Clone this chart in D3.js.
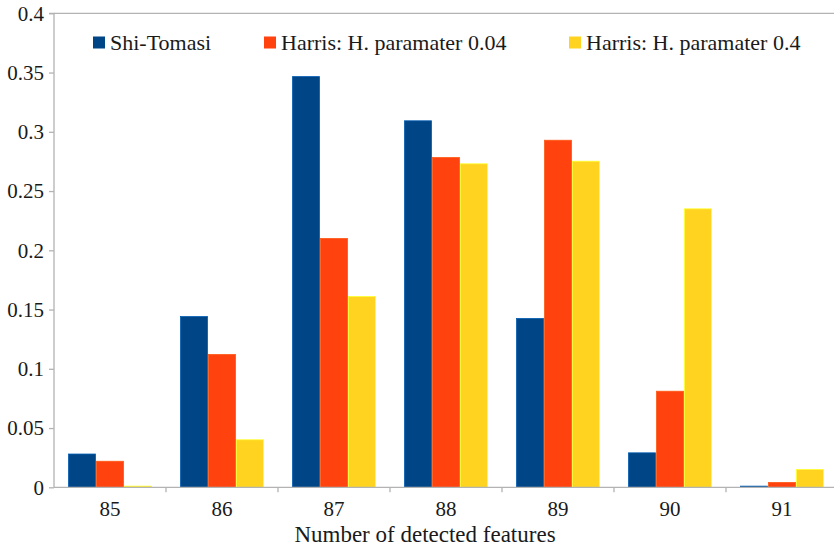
<!DOCTYPE html>
<html><head><meta charset="utf-8">
<script src="https://cdn.jsdelivr.net/npm/d3@7"></script>
</head><body style="margin:0">
<svg id="c" width="834" height="549" font-family="Liberation Serif"></svg>
<script>
const categories = ["85","86","87","88","89","90","91"];
const seriesNames = ["Shi-Tomasi","Harris: H. paramater 0.04","Harris: H. paramater 0.4"];
const shiTomasi = [0.0285,0.1445,0.347,0.3097,0.1429,0.0295,0.0014];
const harris004 = [0.0224,0.1125,0.2104,0.2787,0.2933,0.0815,0.0045];
const harris04  = [0.0014,0.0405,0.1614,0.2734,0.2756,0.2354,0.0154];
const colors = ["#004586","#ff420e","#ffd320"];
const yTicks = [0,0.05,0.1,0.15,0.2,0.25,0.3,0.35,0.4];
const yTickLabels = ["0","0.05","0.1","0.15","0.2","0.25","0.3","0.35","0.4"];

const series = [shiTomasi, harris004, harris04];
const FF = d => '"Liberation Serif"';
const svg = d3.select("#c");
const x = d3.scaleBand().domain(categories).range([54,838]).paddingInner(0).paddingOuter(0);
const y = d3.scaleLinear().domain([0,0.4]).range([487.3,13.3]);
const sub = d3.scaleBand().domain(d3.range(series.length)).range([0,x.bandwidth()]).paddingOuter(0.5).paddingInner(0);

svg.append("line").attr("x1",54).attr("x2",834).attr("y1",y(0.4)).attr("y2",y(0.4)).attr("stroke","#b3b3b3").attr("stroke-width",1.3);

series.forEach((vals,si)=>{
  svg.append("g").selectAll("rect").data(vals).join("rect")
    .attr("x",(d,i)=>x(categories[i])+sub(si)+0.5)
    .attr("width",sub.bandwidth()-1)
    .attr("y",d=>y(d)+0.5)
    .attr("height",d=>Math.max(0,y(0)-y(d)-0.5))
    .attr("fill",colors[si])
    .attr("stroke",d3.color(colors[si]).brighter(0.8))
    .attr("stroke-width",0.8);
});

// y axis
const ya = d3.axisLeft(y).tickValues(yTicks).tickFormat((d,i)=>yTickLabels[i]).tickSize(5).tickPadding(5);
const yg = svg.append("g").attr("transform","translate(54,0)").call(ya);
yg.attr("font-family","Liberation Serif").attr("font-size",21);
yg.select(".domain").attr("stroke","#b3b3b3").attr("stroke-width",1.3).attr("d",`M-5,${y(0.4)}H0V${y(0)}`);
yg.selectAll(".tick line").attr("stroke","#b3b3b3").attr("stroke-width",1.3);
yg.selectAll("text").attr("fill","#1a1a1a").style("font-family",FF).style("font-size","21px");

// x axis
const xa = d3.axisBottom(x).tickSize(0).tickPadding(14);
const xg = svg.append("g").attr("transform",`translate(0,${y(0)})`).call(xa);
xg.attr("font-family","Liberation Serif").attr("font-size",21);
xg.select(".domain").attr("stroke","#b3b3b3").attr("stroke-width",1.3).attr("d","M54,0H834");
xg.selectAll("text").attr("fill","#1a1a1a").style("font-family",FF).style("font-size","21px");
svg.append("g").selectAll("line").data(categories.slice(1)).join("line")
  .attr("x1",d=>x(d)).attr("x2",d=>x(d)).attr("y1",y(0)).attr("y2",y(0)+5)
  .attr("stroke","#b3b3b3").attr("stroke-width",1.3);

svg.append("text").attr("x",425).attr("y",542).attr("text-anchor","middle")
  .attr("fill","#1a1a1a").style("font-family",FF).style("font-size","23px").text("Number of detected features");

// legend
const legX = [93,264,569];
seriesNames.forEach((n,i)=>{
  svg.append("rect").attr("x",legX[i]).attr("y",36.5).attr("width",12).attr("height",12).attr("fill",colors[i]);
  svg.append("text").attr("x",legX[i]+17).attr("y",50)
    .attr("fill","#1a1a1a").style("font-family",FF).style("font-size","22px").text(n);
});
</script></body></html>
